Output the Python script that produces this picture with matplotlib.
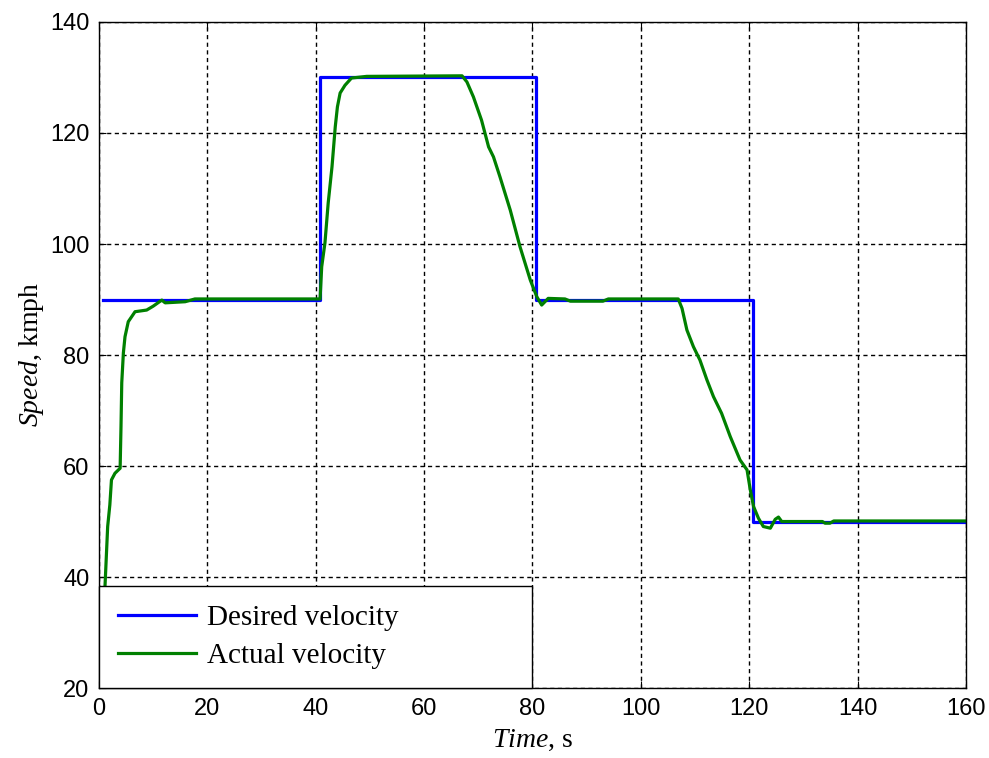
import numpy as np
import matplotlib
matplotlib.use('Agg')
import matplotlib.pyplot as plt

# desired (step) velocity profile
desired_t = [0.7, 40.7, 40.7, 80.7, 80.7, 120.7, 120.7, 160]
desired_v = [90, 90, 130, 130, 90, 90, 50, 50]

# actual velocity
actual_t = [1.1, 1.6, 2.0, 2.3, 2.95, 3.9, 4.06, 4.2, 4.5, 4.8, 5.4, 6.65, 8.8, 10.0,
            11.6, 12.2, 15.9, 17.7, 40.8,
            41.1, 41.7, 42.3, 43.0, 43.6, 44.0, 44.5, 45.4, 46.6, 49.4, 67.0,
            67.9, 69.1, 70.6, 71.9, 72.8, 74.0, 75.9, 77.7, 79.6, 80.8, 81.7, 82.9,
            86.0, 87.0, 93.0, 94.0, 106.9,
            107.6, 108.5, 109.7, 110.9, 112.2, 113.4, 114.9, 116.5, 118.3, 119.6,
            120.2, 120.8, 121.7, 122.6, 123.9, 124.8, 125.4, 126.0, 133.5, 134.0,
            134.9, 135.6, 160]
actual_v = [38.2, 49.1, 53.0, 57.5, 58.7, 59.6, 67.1, 75.0, 80.4, 83.3, 86.0, 87.8, 88.1, 88.8,
            89.9, 89.4, 89.6, 90.1, 90.1,
            95.9, 100.2, 107.4, 113.9, 121.1, 124.7, 127.2, 128.6, 129.9, 130.2, 130.3,
            129.2, 126.5, 122.3, 117.5, 115.7, 112.1, 106.1, 99.5, 93.5, 90.5, 89.0, 90.2,
            90.1, 89.7, 89.7, 90.1, 90.1,
            88.4, 84.5, 81.5, 79.1, 75.5, 72.5, 69.5, 65.3, 61.1, 59.3,
            55.7, 52.7, 50.6, 49.1, 48.8, 50.4, 50.8, 50.0, 50.0, 49.7,
            49.7, 50.1, 50.1]

x_ticks = [0, 20, 40, 60, 80, 100, 120, 140, 160]
y_ticks = [20, 40, 60, 80, 100, 120, 140]

plt.rcParams['mathtext.fontset'] = 'custom'
plt.rcParams['mathtext.rm'] = 'Liberation Serif'
plt.rcParams['mathtext.it'] = 'Liberation Serif:italic'

fig = plt.figure(figsize=(9.89, 7.58), dpi=100)
ax = fig.add_axes([0.1001, 0.0923, 0.8766, 0.8787])

ax.plot(desired_t, desired_v, color='#0000ff', linewidth=2.3, label='Desired velocity')
ax.plot(actual_t, actual_v, color='#008000', linewidth=2.3, label='Actual velocity')

ax.set_xlim(0, 160)
ax.set_ylim(20, 140)
ax.set_xticks(x_ticks)
ax.set_yticks(y_ticks)
ax.tick_params(direction='in', length=5, top=True, right=True, labelsize=17, pad=7)
for lbl in ax.get_xticklabels() + ax.get_yticklabels():
    lbl.set_family('Liberation Sans')

ax.grid(True, color='black', linestyle=(0, (3, 2.5)), linewidth=1.0)
for sp in ax.spines.values():
    sp.set_linewidth(1.0)

ax.set_xlabel(r'$\it{Time}$, s', fontsize=20, family='Liberation Serif', labelpad=6)
ax.set_ylabel(r'$\it{Speed}$, kmph', fontsize=20, family='Liberation Serif', labelpad=3)

leg = ax.legend(loc='lower left', bbox_to_anchor=(0, 0, 0.5, 0.155), mode='expand',
                borderaxespad=0, fancybox=False, framealpha=1, edgecolor='black',
                prop={'family': 'Liberation Serif', 'size': 21},
                handlelength=2.65, handletextpad=0.4, labelspacing=0.38, borderpad=0.66)
leg.get_frame().set_linewidth(1.0)

fig.savefig('out.png', dpi=100)
